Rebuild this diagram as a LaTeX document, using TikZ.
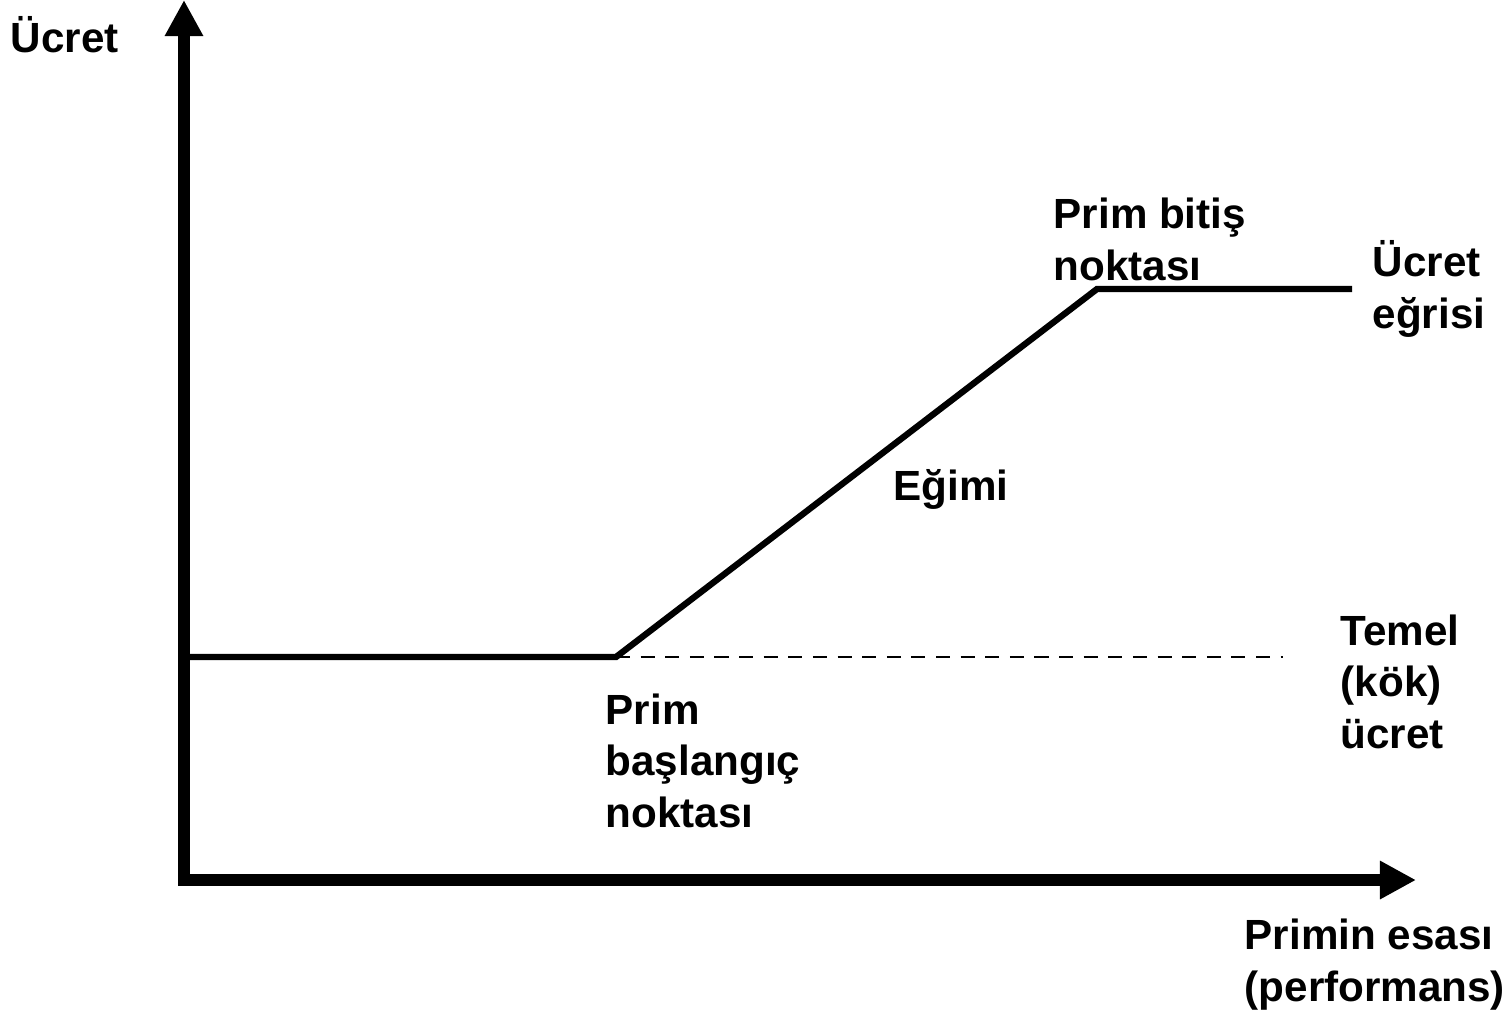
\documentclass[tikz,border=0pt]{standalone}
\usepackage{fontspec}
\setmainfont{Liberation Sans}
\usetikzlibrary{arrows.meta}

\begin{document}
\begin{tikzpicture}[x=0.01cm,y=-0.01cm,
    axis/.style={line width=3.3pt,{Triangle[length=0.36cm,width=0.36cm]}-{Triangle[length=0.36cm,width=0.36cm]}},
    curve/.style={line width=1.8pt,line join=miter},
    baseline/.style={dashed,line width=0.6pt,dash pattern=on 4pt off 3pt},
    lbl/.style={anchor=base west,inner sep=0pt,align=left,font=\fontsize{12}{14.6}\selectfont\bfseries}]

\useasboundingbox (0,0) rectangle (1512,1011);

% Axes
\coordinate (origin) at (184,880);
\coordinate (yTip) at (184,0);
\coordinate (xTip) at (1416,880);
\draw[axis] (yTip) -- (origin) -- (xTip);

% Pay curve
\coordinate (payStart) at (188,657);
\coordinate (primStart) at (616,657);
\coordinate (primEnd) at (1097,289);
\coordinate (payEnd) at (1352,289);
\coordinate (baseEnd) at (1283,657);
\draw[curve] (payStart) -- (primStart) -- (primEnd) -- (payEnd);
\draw[baseline] (primStart) -- (baseEnd);

% Labels (anchored at the last line)
\node[lbl] (yLabel) at (10,52) {Ücret};
\node[lbl] (xLabel) at (1244,1001) {Primin esası\\(performans)};
\node[lbl] (endLabel) at (1053,280) {Prim bitiş\\noktası};
\node[lbl] (curveLabel) at (1372,328) {Ücret\\eğrisi};
\node[lbl] (slopeLabel) at (893,500) {Eğimi};
\node[lbl] (baseLabel) at (1340,748) {Temel\\(kök)\\ücret};
\node[lbl] (startLabel) at (605,827) {Prim\\başlangıç\\noktası};

\end{tikzpicture}
\end{document}
